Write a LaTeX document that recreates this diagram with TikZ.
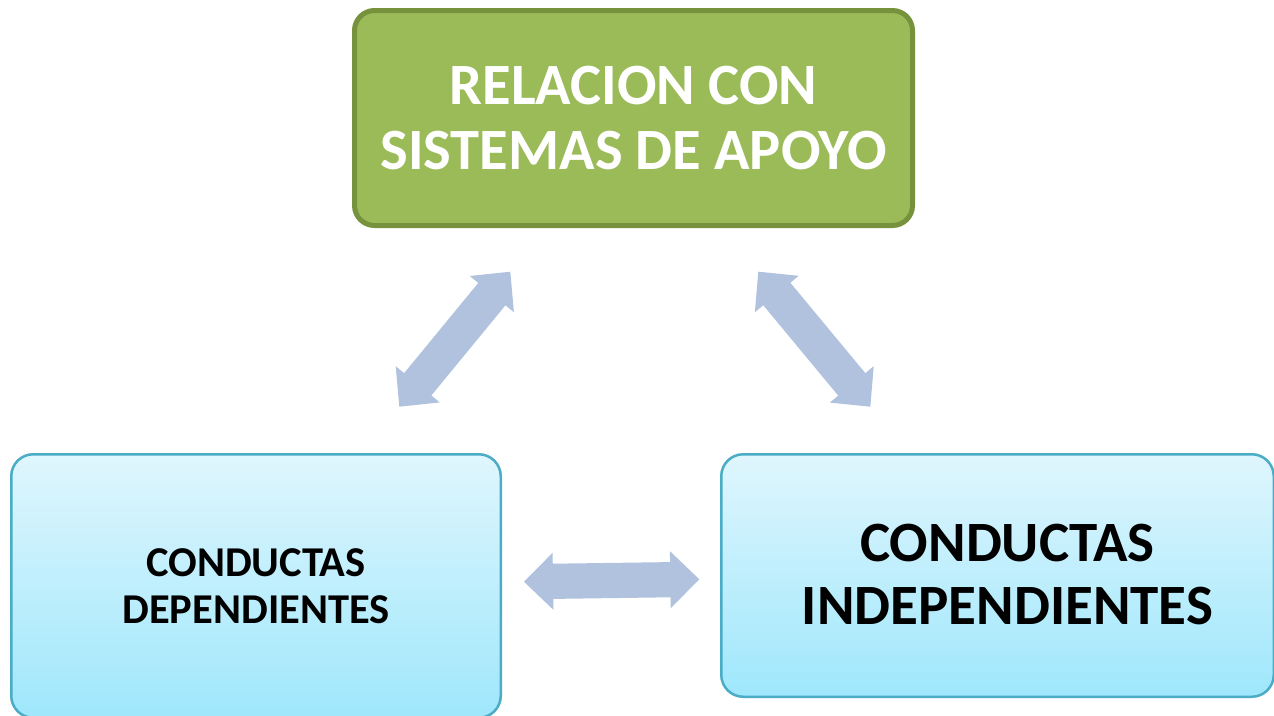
\documentclass[tikz,border=0pt]{standalone}
\usepackage{fontspec}
\setmainfont{Carlito}
\usetikzlibrary{calc}
\definecolor{greenfill}{HTML}{9BBB59}
\definecolor{greenline}{HTML}{76923C}
\definecolor{blueline}{HTML}{4BACC6}
\definecolor{bluetop}{HTML}{DFF6FD}
\definecolor{bluebot}{HTML}{9FE7FC}
\definecolor{arrowcol}{HTML}{B0C2DE}
\newcommand\blockarrow[2]{%
  \path ($(#1)!29pt!(#2)$) coordinate (ba1) ($(#2)!29pt!(#1)$) coordinate (ba2);
  \fill[arrowcol] (#1)
    -- ($(ba1)!28.5pt!-90:(#2)$) -- ($(ba1)!17.6pt!-90:(#2)$)
    -- ($(ba2)!17.6pt!90:(#1)$) -- ($(ba2)!28.5pt!90:(#1)$)
    -- (#2)
    -- ($(ba2)!28.5pt!-90:(#1)$) -- ($(ba2)!17.6pt!-90:(#1)$)
    -- ($(ba1)!17.6pt!90:(#2)$) -- ($(ba1)!28.5pt!90:(#2)$)
    -- cycle;}
\begin{document}
\begin{tikzpicture}[x=1pt,y=-1pt,
  greenbox/.style={draw=greenline, line width=5pt, fill=greenfill, rounded corners=20pt,
    text=white, font=\bfseries\fontsize{58.5}{65}\selectfont, align=center, inner sep=0pt},
  bluebox/.style={draw=blueline, line width=2.5pt, top color=bluetop, bottom color=bluebot,
    rounded corners=22pt, inner sep=0pt, align=center},
  bluetext/.style={text=black, align=center, inner sep=0pt}]
\useasboundingbox (0,0) rectangle (1274,715);
\clip (0,0) rectangle (1274,715);
\fill[white] (0,0) rectangle (1274,715);
\node[greenbox, minimum width=558pt, minimum height=215pt] (top) at (633.5,118)
  {RELACION CON\\SISTEMAS DE APOYO};
\node[bluebox, font=\bfseries\fontsize{42.5}{47}\selectfont,
  minimum width=489.5pt, minimum height=263.5pt] (left) at (256,586)
  {CONDUCTAS\\DEPENDIENTES};
\node[bluebox, minimum width=552.5pt, minimum height=242.5pt] (right) at (997.5,575.5) {};
\node[bluetext, font=\bfseries\fontsize{57}{63}\selectfont] (righttext) at (1007.5,574)
  {CONDUCTAS\\INDEPENDIENTES};
\coordinate (la) at (399.3,406.7);
\coordinate (lb) at (510.3,271.7);
\coordinate (ra) at (758.3,271.7);
\coordinate (rb) at (870.3,406.7);
\coordinate (ha) at (524,581.7);
\coordinate (hb) at (699.3,579.3);
\blockarrow{la}{lb}
\blockarrow{ra}{rb}
\blockarrow{ha}{hb}
\end{tikzpicture}
\end{document}
